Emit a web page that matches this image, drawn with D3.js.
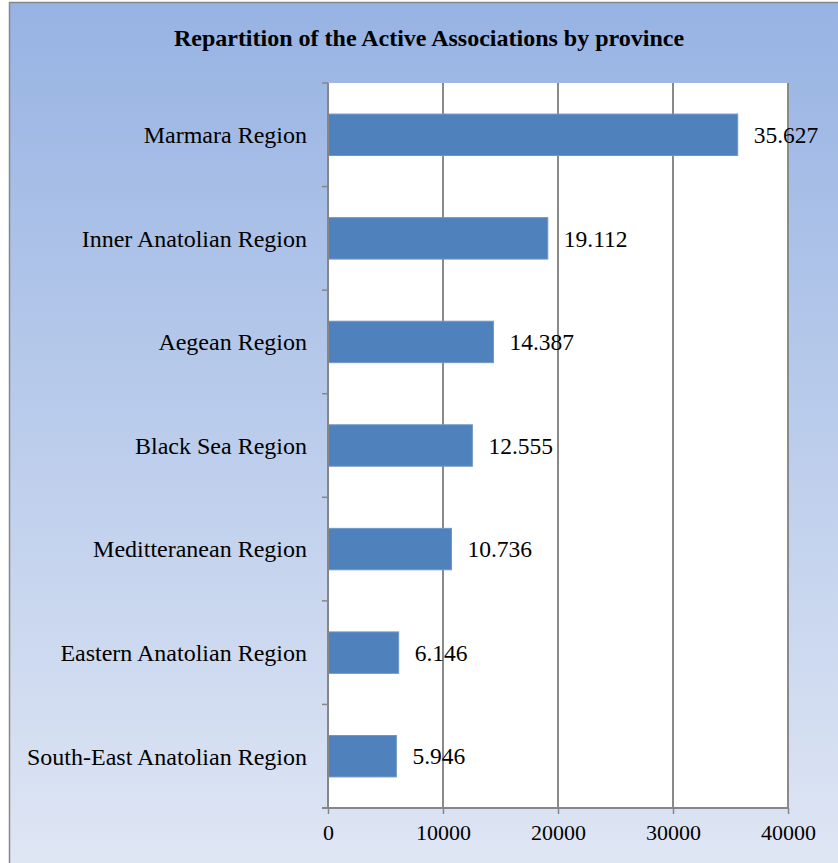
<!DOCTYPE html>
<html>
<head>
<meta charset="utf-8">
<script src="https://cdn.jsdelivr.net/npm/d3@7"></script>
<style>
  body { margin: 0; background: #fff; }
  svg { display: block; font-family: "Liberation Serif", "Times New Roman", serif; }
</style>
</head>
<body>
<svg id="chart" width="838" height="863"></svg>
<script>
// data
let regions = ["Marmara Region", "Inner Anatolian Region", "Aegean Region", "Black Sea Region",
    "Meditteranean Region", "Eastern Anatolian Region", "South-East Anatolian Region"]
let associations = [35627, 19112, 14387, 12555, 10736, 6146, 5946]
let xTicks = [0, 10000, 20000, 30000, 40000]
let title = "Repartition of the Active Associations by province"

let svg = d3.select("#chart")
let width = +svg.attr("width")
let height = +svg.attr("height")

let margin = { top: 83, right: 50, bottom: 55, left: 328 }
let plotBottom = 808

/* ---------- background frame ---------- */
let defs = svg.append("defs")
let grad = defs.append("linearGradient")
    .attr("id", "bg").attr("x1", 0).attr("y1", 0).attr("x2", 0).attr("y2", 1)
grad.append("stop").attr("offset", "0%").attr("stop-color", "#97b3e3")
grad.append("stop").attr("offset", "100%").attr("stop-color", "#dfe6f4")

svg.append("rect")
    .attr("x", 9.5).attr("y", 2.5)
    .attr("width", width).attr("height", height)
    .attr("fill", "url(#bg)")
    .attr("stroke", "#888").attr("stroke-width", 1.5)

svg.append("text")
    .attr("x", 429).attr("y", 46)
    .attr("text-anchor", "middle")
    .attr("font-size", 24).attr("font-weight", "bold")
    .text(title)

/* ---------- scales ---------- */
let x = d3.scaleLinear()
    .domain([0, 40000])
    .range([margin.left, 788])

let y = d3.scaleBand()
    .domain(regions)
    .range([margin.top, plotBottom])
    .paddingInner(0.6)
    .paddingOuter(0.3)

// plot area
svg.append("rect")
    .attr("x", x(0)).attr("y", margin.top)
    .attr("width", x(40000) - x(0)).attr("height", plotBottom - margin.top)
    .attr("fill", "#fff")

// gridlines
svg.append("g")
    .selectAll("line")
    .data(xTicks.slice(1))
    .enter()
        .append("line")
        .attr("x1", d => x(d)).attr("x2", d => x(d))
        .attr("y1", margin.top).attr("y2", plotBottom)
        .attr("stroke", "#8a8a8a").attr("stroke-width", 2)

// bars
svg.append("g")
    .selectAll("rect")
    .data(associations)
    .enter()
        .append("rect")
        .attr("x", x(0))
        .attr("y", (d, i) => y(regions[i]))
        .attr("width", d => x(d) - x(0))
        .attr("height", y.bandwidth())
        .attr("fill", "#4f81bd")
        .attr("stroke", "#6e97c9").attr("stroke-width", 1)

// value labels (dot as thousands separator)
let fmt = d3.formatLocale({ decimal: ",", thousands: ".", grouping: [3], currency: ["", ""] }).format(",")
svg.append("g")
    .selectAll("text")
    .data(associations)
    .enter()
        .append("text")
        .attr("x", d => x(d) + 16)
        .attr("y", (d, i) => y(regions[i]) + y.bandwidth() / 2)
        .attr("dy", "0.35em")
        .attr("font-size", 23.5)
        .text(d => fmt(d))

/* ---------- axes ---------- */
let yAxis = svg.append("g")
    .attr("transform", `translate(${x(0)},0)`)
// tick marks at band boundaries
let bounds = d3.range(regions.length + 1).map(i => margin.top + i * y.step())
yAxis.selectAll("line.tick")
    .data(bounds)
    .enter()
        .append("line")
        .attr("x1", -6).attr("x2", 0)
        .attr("y1", d => d).attr("y2", d => d)
        .attr("stroke", "#868686").attr("stroke-width", 1.5)
yAxis.append("line")
    .attr("x1", 0).attr("x2", 0)
    .attr("y1", margin.top).attr("y2", plotBottom)
    .attr("stroke", "#868686").attr("stroke-width", 2)
yAxis.selectAll("text")
    .data(regions)
    .enter()
        .append("text")
        .attr("x", -21)
        .attr("y", d => y(d) + y.bandwidth() / 2)
        .attr("dy", "0.35em")
        .attr("text-anchor", "end")
        .attr("font-size", 24)
        .text(d => d)

let xAxis = svg.append("g")
    .attr("transform", `translate(0,${plotBottom})`)
    .call(d3.axisBottom(x).tickValues(xTicks).tickFormat(d3.format("d")).tickSizeInner(6).tickSizeOuter(0).tickPadding(10))
xAxis.select(".domain").attr("stroke", "#868686").attr("stroke-width", 2)
    .attr("d", `M${x(0) - 6},0H${x(40000)}`)
xAxis.selectAll(".tick line").attr("stroke", "#868686").attr("stroke-width", 1.5)
xAxis.selectAll(".tick text")
    .attr("font-size", 22)
    .attr("font-family", "'Liberation Serif', 'Times New Roman', serif")
    .attr("fill", "#000")
</script>
</body>
</html>
